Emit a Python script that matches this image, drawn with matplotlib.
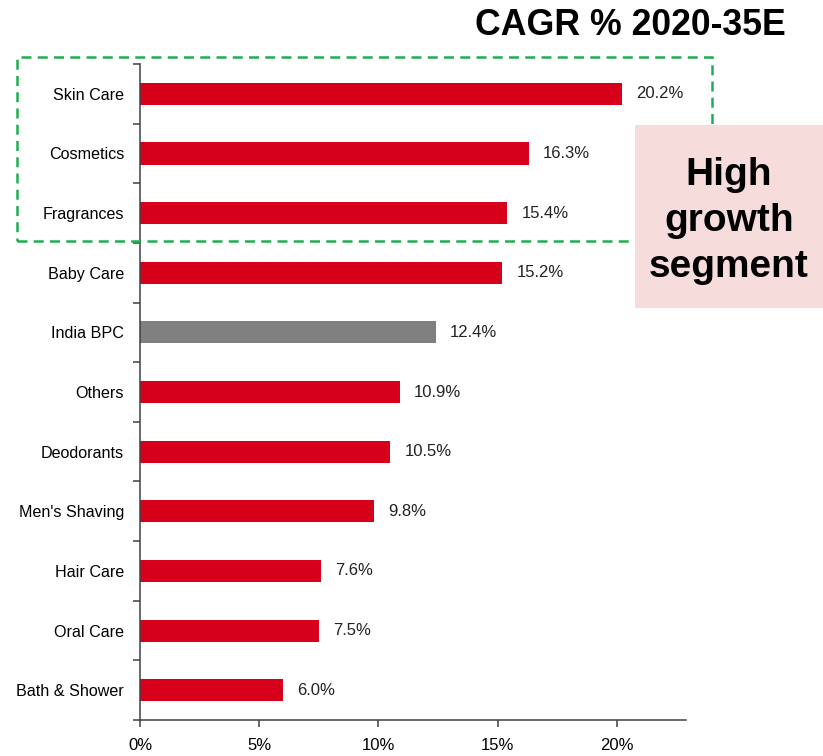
import matplotlib.pyplot as plt
from matplotlib.patches import Rectangle

categories = ["Skin Care", "Cosmetics", "Fragrances", "Baby Care", "India BPC", "Others",
              "Deodorants", "Men's Shaving", "Hair Care", "Oral Care", "Bath & Shower"]
cagr = [20.2, 16.3, 15.4, 15.2, 12.4, 10.9, 10.5, 9.8, 7.6, 7.5, 6.0]
highlight = "India BPC"
xticks = [0, 5, 10, 15, 20]

red = "#d7001a"
grey = "#808080"
font = "Liberation Sans"

fig = plt.figure(figsize=(8.23, 7.56), dpi=100)
ax = fig.add_axes([0.1701, 0.0476, 0.6635, 0.8677])

ypos = list(range(len(categories)))
colors = [grey if c == highlight else red for c in categories]
ax.barh(ypos, cagr, height=0.37, color=colors, zorder=2)

for y, v in zip(ypos, cagr):
    ax.text(v + 0.6, y, f"{v:.1f}%", va="center", ha="left",
            fontsize=12, family=font, color="#222222")

ax.set_xlim(0, 22.9)
ax.set_ylim(len(categories) - 0.5, -0.5)
ax.set_xticks(xticks)
ax.set_xticklabels([f"{t}%" for t in xticks], family=font, fontsize=12)
ax.set_yticks(ypos)
ax.set_yticklabels(categories, family=font, fontsize=11.6)
ax.set_yticks([i - 0.5 for i in range(len(categories) + 1)], minor=True)
ax.tick_params(axis="y", which="major", length=0, pad=11.5)
ax.tick_params(axis="y", which="minor", length=5, width=1.1, color="#404040")
ax.tick_params(axis="x", length=5, width=1.1, color="#404040", pad=8)

for s in ["top", "right"]:
    ax.spines[s].set_visible(False)
for s in ["left", "bottom"]:
    ax.spines[s].set_color("#404040")
    ax.spines[s].set_linewidth(1.1)

# highlight box around the top three segments
fig.patches.append(Rectangle((0.0207, 0.6812), 0.8445, 0.2434, transform=fig.transFigure,
                             fill=False, edgecolor="#1fae4f", linewidth=1.8,
                             linestyle=(0, (4, 2.5)), zorder=5))
fig.patches.append(Rectangle((0.7716, 0.5926), 0.2284, 0.2421, transform=fig.transFigure,
                             facecolor="#f7dcdc", edgecolor="none", zorder=6))
fig.text(0.8858, 0.708, "High\ngrowth\nsegment", ha="center", va="center",
         fontsize=28, fontweight="bold", family=font, linespacing=1.36,
         zorder=7)

fig.text(0.7655, 0.966, "CAGR % 2020-35E", ha="center", va="center",
         fontsize=25.7, fontweight="bold", family=font)

fig.savefig("out.png", dpi=100)
